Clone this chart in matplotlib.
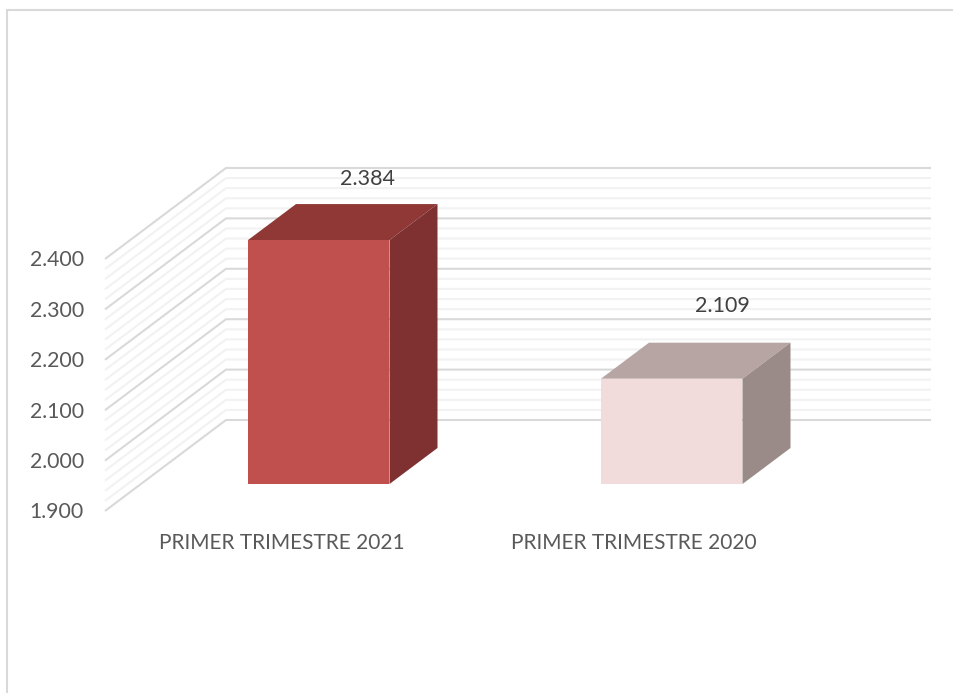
import matplotlib
matplotlib.use("Agg")
import matplotlib.pyplot as plt
from matplotlib.lines import Line2D

categories = ["PRIMER TRIMESTRE 2021", "PRIMER TRIMESTRE 2020"]
values = [2384, 2109]
value_labels = ["2.384", "2.109"]
major_ticks = [1900, 2000, 2100, 2200, 2300, 2400]
tick_labels = ["1.900", "2.000", "2.100", "2.200", "2.300", "2.400"]
minor_ticks = [1920, 1940, 1960, 1980, 2020, 2040, 2060, 2080, 2120, 2140, 2160, 2180,
               2220, 2240, 2260, 2280, 2320, 2340, 2360, 2380]

W, H = 954, 693
PX_PER_UNIT = 0.504
BASE = 1900
BASE_Y = 511
plt.rcParams['font.family'] = ['Lato', 'DejaVu Sans']

fig = plt.figure(figsize=(W / 100, H / 100), dpi=100)
ax = fig.add_axes([0, 0, 1, 1])
ax.set_xlim(0, W)
ax.set_ylim(BASE - (H - BASE_Y) / PX_PER_UNIT, BASE + BASE_Y / PX_PER_UNIT)
ax.axis("off")

def up(px):
    return px / PX_PER_UNIT

# walls
FX, BX, RX = 105, 226, 931
DEPTH_UP = up(91)
for t in minor_ticks:
    ax.plot([FX, BX, RX], [t, t + DEPTH_UP, t + DEPTH_UP], color="#F2F2F2", lw=1.5, zorder=1,
            solid_joinstyle="miter", solid_capstyle="butt")
for t in major_ticks:
    ax.plot([FX, BX, RX], [t, t + DEPTH_UP, t + DEPTH_UP], color="#D9D9D9", lw=1.5, zorder=2,
            solid_joinstyle="miter", solid_capstyle="butt")

# bars
bar_left = [248, 601]
BAR_W = 141.5
LIFT = up(27)
DX, DY = 48, up(36)
front_colors = ["#C0504D", "#F2DCDB"]
top_colors = ["#8F3836", "#B7A5A4"]
side_colors = ["#7E3130", "#9A8B89"]
label_dx = [120, 121.5]
label_up = [61, 73]
cat_dx = [33.5, 32.5]
for i, v in enumerate(values):
    x0 = bar_left[i]
    x1 = x0 + BAR_W
    b = BASE + LIFT
    t = v + LIFT
    ax.bar(x0, v - BASE, width=BAR_W, bottom=b, align="edge", color=front_colors[i], zorder=5)
    ax.fill([x0, x1, x1 + DX, x0 + DX], [t, t, t + DY, t + DY], color=top_colors[i], lw=0, zorder=4)
    ax.fill([x1, x1 + DX, x1 + DX, x1], [b, b + DY, t + DY, t], color=side_colors[i], lw=0, zorder=4)
    ax.text(x0 + label_dx[i], t + up(label_up[i]), value_labels[i], ha="center", va="center",
            fontsize=15.5, color="#404040", zorder=6)
    ax.text(x0 + cat_dx[i], BASE - up(32), categories[i], ha="center", va="center",
            fontsize=15, color="#595959", zorder=6)

for t, lab in zip(major_ticks, tick_labels):
    ax.text(84, t - up(1.5), lab, ha="right", va="center", fontsize=15.3, color="#595959")

# chart frame
fig.add_artist(Line2D([7 / W, 7 / W, 1], [0, 1 - 10 / H, 1 - 10 / H], color="#D9D9D9", lw=1.5,
                      solid_joinstyle="miter"))

fig.savefig("out.png", dpi=100)
